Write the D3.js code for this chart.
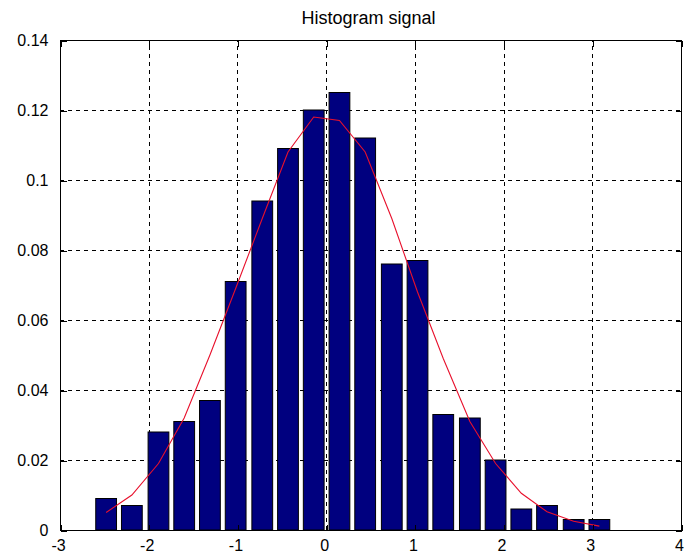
<!DOCTYPE html>
<html>
<head>
<meta charset="utf-8">
<script src="https://cdn.jsdelivr.net/npm/d3@7"></script>
<style>
  html, body { margin: 0; padding: 0; background: #ffffff; }
  svg { display: block; }
  text { font-family: "Liberation Sans", Arial, Helvetica, sans-serif; fill: #000; }
</style>
</head>
<body>
<svg id="chart" width="685" height="554"></svg>
<script>
// Bin centres of the histogram (x values)
const binCenters = [-2.48, -2.19, -1.89, -1.60, -1.31, -1.02, -0.72, -0.43, -0.14, 0.15,
                    0.44, 0.74, 1.03, 1.32, 1.62, 1.91, 2.20, 2.49, 2.79, 3.08];
// Relative frequency of each bin
const binFreq = [0.009, 0.007, 0.028, 0.031, 0.037, 0.071, 0.094, 0.109, 0.120, 0.125,
                 0.112, 0.076, 0.077, 0.033, 0.032, 0.020, 0.006, 0.007, 0.003, 0.003];
// Fitted density curve, evaluated at the bin centres
const fitValues = [0.005, 0.010, 0.019, 0.032, 0.050, 0.069, 0.089, 0.108, 0.118, 0.117,
                   0.108, 0.089, 0.068, 0.049, 0.031, 0.019, 0.0105, 0.0052, 0.0025, 0.0011];
// Axis ticks
const xTicks = [-3, -2, -1, 0, 1, 2, 3, 4];
const yTicks = [0, 0.02, 0.04, 0.06, 0.08, 0.1, 0.12, 0.14];
const xTickLabels = ["-3", "-2", "-1", "0", "1", "2", "3", "4"];
const yTickLabels = ["0", "0.02", "0.04", "0.06", "0.08", "0.1", "0.12", "0.14"];
const titleText = "Histogram signal";

const svg = d3.select("#chart");
const plotL = 60, plotR = 681, plotT = 40, plotB = 530;

const x = d3.scaleLinear().domain([-3, 4]).range([plotL, plotR]);
const y = d3.scaleLinear().domain([0, 0.14]).range([plotB, plotT]);

// bar width = 80% of bin spacing
const spacing = (binCenters[binCenters.length - 1] - binCenters[0]) / (binCenters.length - 1);
const barW = 0.8 * spacing;

// dashed grid (drawn beneath the bars)
const grid = svg.append("g").attr("stroke", "#000").attr("stroke-width", 1)
  .attr("stroke-dasharray", "4,4").attr("shape-rendering", "crispEdges");
grid.selectAll("line.v").data(xTicks.slice(1, -1)).enter().append("line")
  .attr("x1", d => Math.round(x(d)) + 0.5).attr("x2", d => Math.round(x(d)) + 0.5)
  .attr("y1", plotB).attr("y2", plotT);
grid.selectAll("line.h").data(yTicks.slice(1, -1)).enter().append("line")
  .attr("y1", d => Math.round(y(d)) + 0.5).attr("y2", d => Math.round(y(d)) + 0.5)
  .attr("x1", plotL).attr("x2", plotR);

// bars
svg.append("g").selectAll("rect").data(binCenters).enter().append("rect")
  .attr("x", (d) => x(d - barW / 2))
  .attr("width", (d) => x(d + barW / 2) - x(d - barW / 2))
  .attr("y", (d, i) => y(binFreq[i]))
  .attr("height", (d, i) => y(0) - y(binFreq[i]))
  .attr("fill", "#00007f")
  .attr("stroke", "#000")
  .attr("stroke-width", 1);

// fitted curve
const line = d3.line().x(d => x(d[0])).y(d => y(d[1]));
svg.append("path")
  .datum(binCenters.map((c, i) => [c, fitValues[i]]))
  .attr("d", line)
  .attr("fill", "none")
  .attr("stroke", "#e8102c")
  .attr("stroke-width", 1.1);

// axes box
svg.append("rect")
  .attr("x", plotL + 0.5).attr("y", plotT + 0.5)
  .attr("width", plotR - plotL).attr("height", plotB - plotT)
  .attr("fill", "none").attr("stroke", "#000").attr("stroke-width", 1)
  .attr("shape-rendering", "crispEdges");

// inward ticks on all four sides using d3 axes
const tickLen = 6;
const fmtX = (d) => xTickLabels[xTicks.indexOf(d)];
const fmtY = (d) => yTickLabels[yTicks.indexOf(d)];

const xAxisB = d3.axisBottom(x).tickValues(xTicks).tickFormat(fmtX).tickSizeInner(-tickLen).tickSizeOuter(0).tickPadding(9);
const xAxisT = d3.axisTop(x).tickValues(xTicks).tickFormat("").tickSizeInner(-tickLen).tickSizeOuter(0);
const yAxisL = d3.axisLeft(y).tickValues(yTicks).tickFormat(fmtY).tickSizeInner(-tickLen).tickSizeOuter(0).tickPadding(12);
const yAxisR = d3.axisRight(y).tickValues(yTicks).tickFormat("").tickSizeInner(-tickLen).tickSizeOuter(0);

function styleAxis(g) {
  g.select(".domain").remove();
  g.selectAll(".tick line").attr("stroke", "#000").attr("shape-rendering", "crispEdges");
  g.selectAll(".tick text").attr("font-size", 16).attr("fill", "#000")
    .attr("font-family", '"Liberation Sans", Arial, sans-serif');
}
svg.append("g").attr("transform", `translate(0.5,${plotB + 0.5})`).call(xAxisB).call(styleAxis)
  .selectAll(".tick text").attr("dx", -2.5);   // labels sit slightly left of their ticks
svg.append("g").attr("transform", `translate(0.5,${plotT + 0.5})`).call(xAxisT).call(styleAxis);
svg.append("g").attr("transform", `translate(${plotL + 0.5},0.5)`).call(yAxisL).call(styleAxis);
svg.append("g").attr("transform", `translate(${plotR + 0.5},0.5)`).call(yAxisR).call(styleAxis);

// title
svg.append("text")
  .attr("x", (plotL + plotR) / 2 - 2).attr("y", 24)
  .attr("text-anchor", "middle")
  .attr("font-size", 18)
  .text(titleText);
</script>
</body>
</html>
